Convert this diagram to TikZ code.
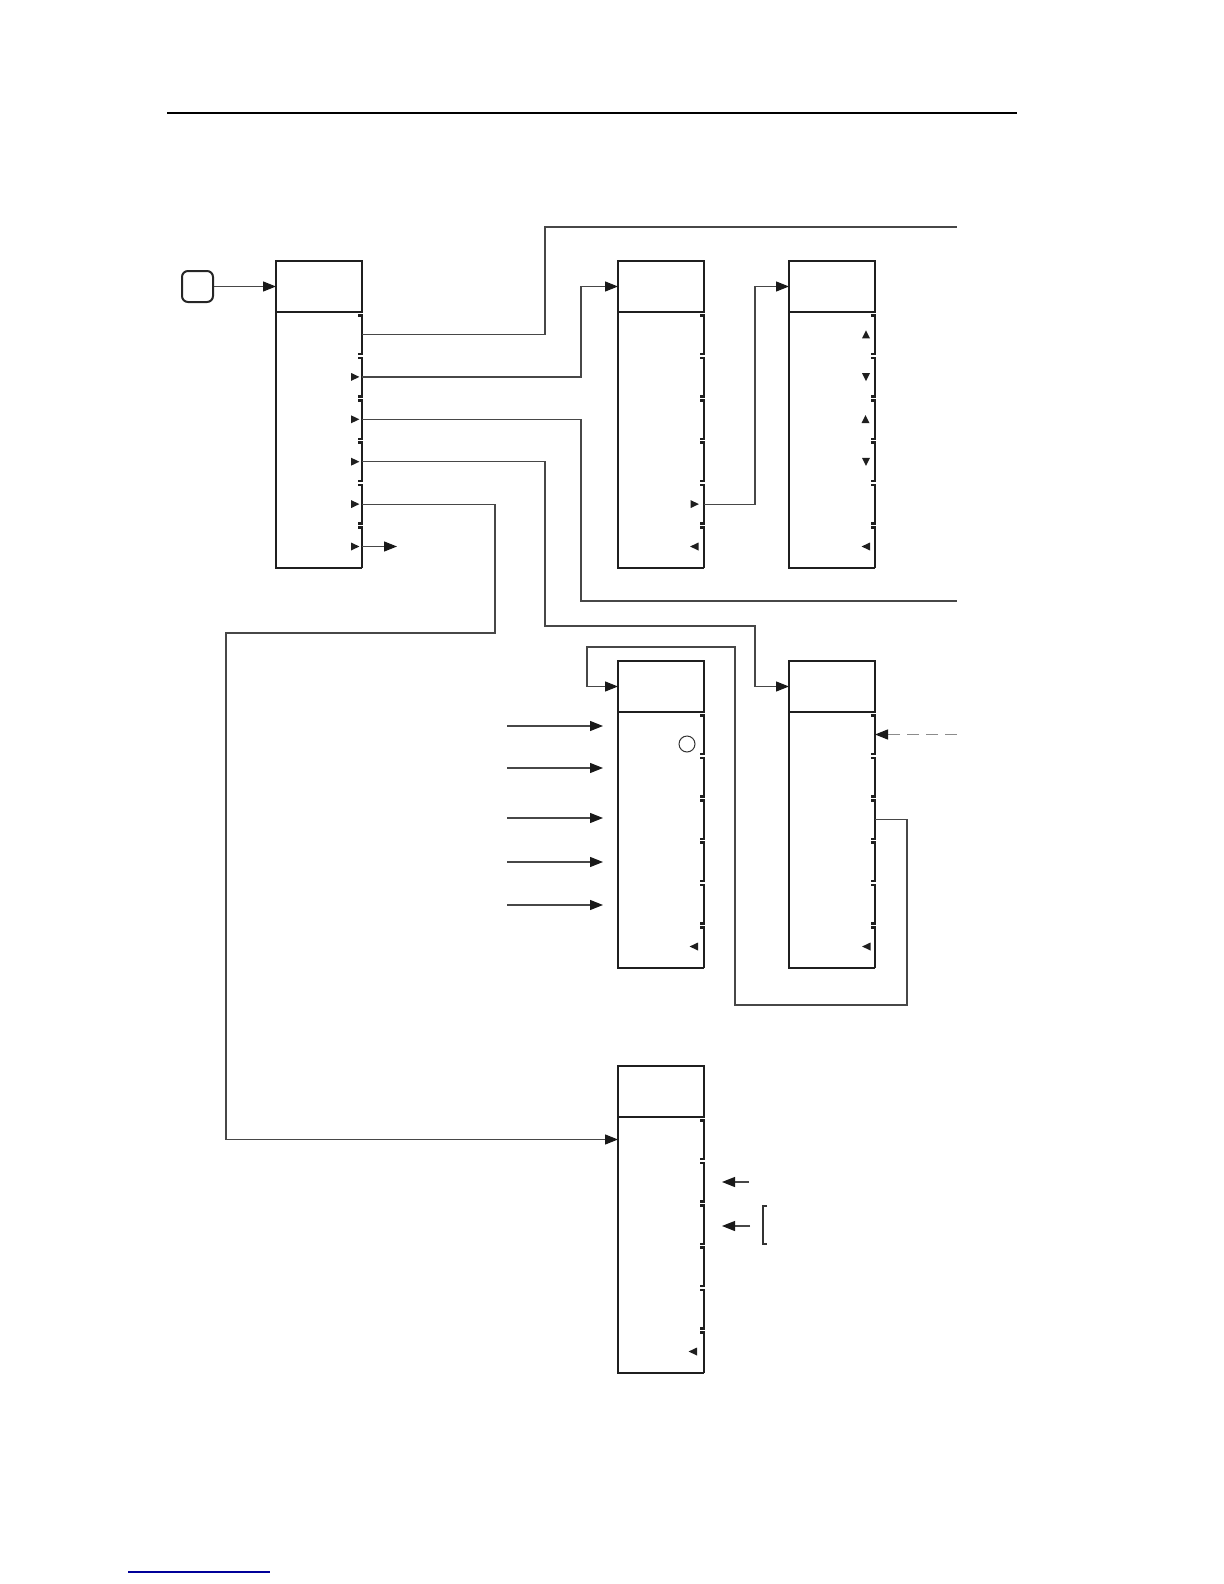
\documentclass[tikz,border=0pt]{standalone}
\usetikzlibrary{arrows.meta}
\tikzset{
  boxline/.style={line width=1.25pt, draw=black!88},
  hdr/.style={draw=black!88, line width=1.25pt, minimum width=43pt, minimum height=25.5pt, inner sep=0pt, outer sep=0pt},
  conn/.style={line width=0.6pt, draw=black!72},
  tip/.style={-{Triangle[length=6.5pt,width=5pt,color=black!90]}},
  dashconn/.style={line width=0.7pt, draw=black!45, dash pattern=on 6pt off 3.5pt},
  glyph/.style={fill=black!88},
}
% name, left x, top y (pixel units)
\newcommand\menubox[3]{%
  \node[hdr, anchor=north west] (#1h) at (#2,#3) {};
  \draw[boxline] (#2,#3+51) -- (#2,#3+307) -- (#2+86,#3+307);
  \foreach \i in {1,...,6}{%
    \pgfmathsetmacro\slt{#3+54.5+(\i-1)*42.4}%
    \pgfmathsetmacro\slc{\slt+19}%
    \coordinate (#1-\i) at (#2+86,\slc);
    \coordinate (#1-w\i) at (#2,\slc);
    \ifnum\i<6
      \draw[boxline] (#2+82,\slt) -- (#2+86,\slt) -- (#2+86,\slt+38.5) -- (#2+82,\slt+38.5);
    \else
      \draw[boxline] (#2+82,\slt) -- (#2+86,\slt) -- (#2+86,#3+307);
    \fi
  }%
}
\newcommand\rtri[1]{\fill[glyph] (#1) ++(-2pt,2pt) -- ++(4.2pt,-2pt) -- ++(-4.2pt,-2pt) -- cycle;}
\newcommand\ltri[1]{\fill[glyph] (#1) ++(2pt,2pt) -- ++(-4.2pt,-2pt) -- ++(4.2pt,-2pt) -- cycle;}
\newcommand\utri[1]{\fill[glyph] (#1) ++(-2pt,-1.9pt) -- ++(4pt,0) -- ++(-2pt,4pt) -- cycle;}
\newcommand\dtri[1]{\fill[glyph] (#1) ++(-2pt,1.9pt) -- ++(4pt,0) -- ++(-2pt,-4pt) -- cycle;}
\begin{document}
\begin{tikzpicture}[x=0.5pt,y=-0.5pt]
\useasboundingbox (0,0) rectangle (1224,1584);

% page rules
\draw[line width=0.8pt] (167,113) -- (1017,113);
\draw[line width=0.7pt, draw=blue!60!black] (128,1572) -- (270,1572);

% boxes
\menubox{A}{276}{261}
\menubox{B}{618}{261}
\menubox{C}{789}{261}
\menubox{D}{618}{661}
\menubox{E}{789}{661}
\menubox{F}{618}{1066}

% start symbol
\node[draw=black!85, line width=1pt, rounded corners=3pt, minimum size=15.5pt, inner sep=0pt] (start) at (197.5,286.5) {};
\draw[conn, tip] (start) -- (Ah.west);

% slot glyphs
\foreach \k in {2,...,6}{\rtri{[xshift=-3.5pt]A-\k}}
\rtri{[xshift=-4.75pt]B-5}
\ltri{[xshift=-4.75pt]B-6}
\utri{[xshift=-4.5pt]C-1}
\dtri{[xshift=-4.5pt]C-2}
\utri{[xshift=-4.75pt]C-3}
\dtri{[xshift=-4.5pt]C-4}
\ltri{[xshift=-4.5pt]C-6}
\ltri{[xshift=-5pt]D-6}
\ltri{[xshift=-4.25pt]E-6}
\ltri{[xshift=-5.5pt]F-6}
\node[draw=black!80, circle, line width=0.5pt, minimum size=8pt, inner sep=0pt] (dcirc) at (687,744) {};

% free ends
\coordinate (tA1) at (957,227);
\coordinate (tA3) at (957,601);
\coordinate (tE1) at (957,734.5);

% connectors from box A
\draw[conn] (A-1) -- ++(183,0) |- (tA1);
\draw[conn, tip] (A-2) -- ++(219,0) |- (Bh.west);
\draw[conn] (A-3) -- ++(219,0) |- (tA3);
\draw[conn, tip] (A-4) -- ++(183,0) |- (755,626) |- (Eh.west);
\draw[conn, tip] (A-5) -- ++(133,0) |- (226,633) |- (F-w1);
\draw[conn, tip] (A-6) -- ++(35,0);

% B to C
\draw[conn, tip] (B-5) -- ++(51,0) |- (Ch.west);

% E loop to D
\draw[conn, tip] (E-3) -- ++(32,0) |- (735,1005) |- (587,647) |- (Dh.west);

% dashed input to E
\draw[dashconn, tip] (tE1) -- (E-1);

% inputs to D
\foreach \yy/\n in {726/1,768/2,818/3,862/4,905/5}{
  \coordinate (di\n) at (507,\yy);
  \coordinate (dt\n) at (603,\yy);
  \draw[conn, tip] (di\n) -- (dt\n);
}

% inputs to F
\coordinate (fa1) at (749,1182);
\coordinate (fb1) at (722,1182);
\coordinate (fa2) at (750,1226);
\coordinate (fb2) at (722,1226);
\draw[conn, tip] (fa1) -- (fb1);
\draw[conn, tip] (fa2) -- (fb2);
\draw[line width=0.6pt, draw=black!80] (767,1206) -- (763,1206) -- (763,1244) -- (767,1244);
\end{tikzpicture}
\end{document}
